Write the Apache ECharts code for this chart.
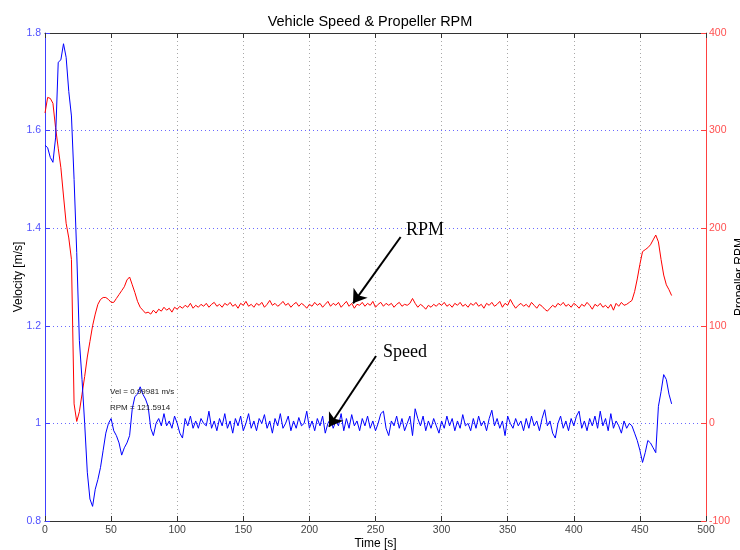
<!DOCTYPE html>
<html lang="en">
<head>
    <meta charset="UTF-8">
    <title>Vehicle Speed & Propeller RPM</title>
    <script src="https://cdn.jsdelivr.net/npm/echarts@6/dist/echarts.min.js"></script>
    <style>
        html, body { margin: 0; padding: 0; background: #fff; }
        #charts { width: 740px; height: 550px; }
    </style>
</head>
<body>
<div id="charts"></div>

<script>
    // sample times [s]
    var timeS = [
        0, 2, 4, 6, 8, 10, 12, 14, 16, 18,
        20, 22, 24, 26, 28, 30, 32, 34, 36, 38,
        40, 42, 44, 46, 48, 50, 52, 54, 56, 58,
        60, 62, 64, 66, 68, 70, 72, 74, 76, 78,
        80, 82, 84, 86, 88, 90, 92, 94, 96, 98,
        100, 102, 104, 106, 108, 110, 112, 114, 116, 118,
        120, 122, 124, 126, 128, 130, 132, 134, 136, 138,
        140, 142, 144, 146, 148, 150, 152, 154, 156, 158,
        160, 162, 164, 166, 168, 170, 172, 174, 176, 178,
        180, 182, 184, 186, 188, 190, 192, 194, 196, 198,
        200, 202, 204, 206, 208, 210, 212, 214, 216, 218,
        220, 222, 224, 226, 228, 230, 232, 234, 236, 238,
        240, 242, 244, 246, 248, 250, 252, 254, 256, 258,
        260, 262, 264, 266, 268, 270, 272, 274, 276, 278,
        280, 282, 284, 286, 288, 290, 292, 294, 296, 298,
        300, 302, 304, 306, 308, 310, 312, 314, 316, 318,
        320, 322, 324, 326, 328, 330, 332, 334, 336, 338,
        340, 342, 344, 346, 348, 350, 352, 354, 356, 358,
        360, 362, 364, 366, 368, 370, 372, 374, 376, 378,
        380, 382, 384, 386, 388, 390, 392, 394, 396, 398,
        400, 402, 404, 406, 408, 410, 412, 414, 416, 418,
        420, 422, 424, 426, 428, 430, 432, 434, 436, 438,
        440, 442, 444, 446, 448, 450, 452, 454, 456, 458,
        460, 462, 464, 466, 468, 470, 472, 474
    ];

    // vehicle speed [m/s]
    var speed = [
        1.57, 1.565, 1.545, 1.535, 1.585, 1.74, 1.745, 1.778, 1.75, 1.68,
        1.63, 1.50, 1.35, 1.17, 1.09, 1.00, 0.90, 0.845, 0.83, 0.865,
        0.885, 0.91, 0.945, 0.98, 1.0, 1.01, 0.985, 0.975, 0.96, 0.935,
        0.95, 0.96, 0.975, 1.03, 1.055, 1.06, 1.075, 1.06, 1.05, 1.035,
        0.99, 0.975, 1.0, 1.01, 0.995, 1.02, 0.995, 1.005, 0.99, 1.015,
        1.0, 0.98, 0.97, 1.01, 0.995, 1.015, 0.99, 1.005, 0.99, 1.01,
        1.0, 0.995, 1.025, 0.99, 1.005, 0.985, 1.01, 0.995, 1.02, 0.99,
        1.005, 0.98, 1.01, 0.995, 1.015, 0.985, 1.0, 1.02, 0.99, 1.005,
        0.985, 1.01, 1.0, 1.018, 0.99, 1.005, 0.98, 1.01, 0.995, 1.02,
        0.99, 1.0, 1.015, 0.985, 1.005, 0.99, 1.012, 0.995, 1.0, 1.025,
        0.99, 1.005, 0.985, 1.01, 0.995, 1.015, 0.98, 1.0, 1.01, 0.99,
        1.005, 0.995, 1.02, 0.985, 1.01, 0.99, 1.018, 0.995, 1.005, 0.985,
        1.01, 0.995, 1.015, 0.99, 1.005, 0.985, 1.0, 1.02, 1.025, 0.99,
        0.975, 1.005, 0.995, 1.015, 0.99, 1.01, 0.985, 1.0, 1.015, 0.975,
        1.03, 1.01, 0.995, 1.015, 0.985, 1.005, 0.99, 1.01, 0.995, 0.98,
        1.005, 0.99, 1.015, 0.995, 1.01, 0.985, 1.005, 0.99, 1.018, 0.995,
        1.0, 0.985, 1.01, 0.99, 1.015, 0.995, 1.005, 0.985, 1.01, 1.027,
        0.995, 1.01, 0.99, 1.005, 0.975, 1.015, 1.0, 0.99, 1.01, 0.995,
        1.005, 0.985, 1.01, 0.99, 1.015, 0.995, 1.005, 0.985, 1.01, 1.028,
        0.995, 1.005, 0.98, 0.97, 1.0, 1.015, 0.99, 1.005, 0.985, 1.01,
        0.995, 1.015, 1.025, 0.99, 1.005, 0.985, 1.01, 0.995, 1.015, 0.99,
        1.025, 0.995, 1.01, 0.985, 1.02, 0.99, 1.005, 0.995, 0.98, 1.005,
        0.99, 1.0, 0.995, 0.98, 0.965, 0.945, 0.92, 0.94, 0.965, 0.96,
        0.95, 0.94, 1.035, 1.065, 1.1, 1.09, 1.06, 1.04
    ];

    // propeller speed [RPM]
    var rpm = [
        318, 334, 333, 328, 303, 282, 262, 233, 205, 190,
        168, 20, 2, 12, 30, 48, 68, 84, 100, 112,
        122, 127, 129, 129, 127, 124, 124, 128, 132, 136,
        140, 147, 150, 142, 134, 125, 119, 116, 113, 114,
        112, 116, 113, 117, 115, 119, 116, 118, 114, 119,
        117, 120, 118, 121, 119, 123, 118, 121, 119, 122,
        120, 123, 119, 122, 124, 120, 122, 119, 123, 121,
        124, 120, 122, 118, 123, 121, 125, 120, 122, 119,
        123, 121, 124, 119, 122, 126, 121, 123, 120, 122,
        125, 121, 123, 119, 122, 124, 120, 123, 121, 118,
        122, 120, 124, 121, 123, 119, 122, 125, 120, 123,
        121, 124, 119, 122, 125, 120, 123, 118, 122, 121,
        124, 120, 123, 121, 125, 119, 122, 124, 120, 123,
        121, 123, 119, 122, 124, 120, 122, 121, 123, 128,
        123, 119, 122, 120, 117, 121, 119, 122, 120, 123,
        121, 124, 120, 122, 119, 123, 121, 124, 120, 122,
        119, 123, 121, 124, 120, 122, 118, 123, 121, 124,
        120, 122, 125, 119, 123, 121, 127, 122, 118, 121,
        123, 120, 122, 119, 124, 121, 118, 122, 120, 117,
        115, 118, 121, 119, 123, 121, 124, 120, 122, 119,
        123, 121, 118, 122, 120, 124, 121, 117, 122, 120,
        123, 119, 121, 118, 122, 116, 123, 120, 124, 121,
        122, 124, 126, 135, 148, 163, 176, 178, 180, 183,
        188, 193, 186, 168, 152, 142, 137, 131
    ];

    var xTicks = [0, 500, 50];          // min, max, step
    var velTicks = [0.8, 1.8, 0.2];
    var rpmTicks = [-100, 400, 100];

    // annotation arrows: [tail, head] in data units
    var rpmArrow = [[269, 191], [233, 123]];
    var speedArrow = [[250.4, 1.138], [214.8, 0.993]];

    var fontSans = "'Liberation Sans', Arial, sans-serif";
    var fontSerif = "'Liberation Serif', 'Times New Roman', serif";

    function pairs(xs, ys) {
        var out = [];
        for (var i = 0; i < ys.length; i++) out.push([xs[i], ys[i]]);
        return out;
    }

    function arrowLine(pts) {
        return {
            silent: true,
            animation: false,
            symbol: ['none', 'arrow'],
            symbolSize: 13,
            label: {show: false},
            lineStyle: {color: '#000', width: 2, type: 'solid'},
            itemStyle: {color: '#000'},
            emphasis: {disabled: true},
            data: [[{coord: pts[0]}, {coord: pts[1]}]]
        };
    }

    var myChart = echarts.init(document.getElementById('charts'), null, {renderer: 'canvas'});

    var option = {
        animation: false,
        backgroundColor: '#fff',
        textStyle: {fontFamily: fontSans},
        title: {
            text: 'Vehicle Speed & Propeller RPM',
            left: 'center',
            top: 9,
            textStyle: {fontSize: 14.5, fontWeight: 'normal', color: '#000', fontFamily: fontSans}
        },
        grid: {left: 45, right: 34, top: 33, bottom: 29, containLabel: false, outerBoundsMode: 'none'},
        xAxis: [{
            type: 'value',
            min: xTicks[0], max: xTicks[1], interval: xTicks[2],
            name: 'Time [s]',
            nameLocation: 'middle',
            nameGap: 17,
            nameMoveOverlap: false,
            nameTextStyle: {fontSize: 12, color: '#000', fontFamily: fontSans},
            axisLine: {onZero: false, lineStyle: {color: '#333', width: 1}},
            axisTick: {inside: true, length: 5, lineStyle: {color: '#333'}},
            axisLabel: {fontSize: 10.5, color: '#444', margin: 4, fontFamily: fontSans},
            splitLine: {show: true, lineStyle: {color: '#a8a8a8', type: [1, 3], width: 1}}
        }, {
            type: 'value',
            position: 'top',
            min: xTicks[0], max: xTicks[1], interval: xTicks[2],
            axisLine: {onZero: false, lineStyle: {color: '#333', width: 1}},
            axisTick: {inside: true, length: 5, lineStyle: {color: '#333'}},
            axisLabel: {show: false},
            splitLine: {show: false}
        }],
        yAxis: [{
            type: 'value',
            position: 'left',
            min: velTicks[0], max: velTicks[1], interval: velTicks[2],
            name: 'Velocity [m/s]',
            nameLocation: 'middle',
            nameRotate: 90,
            nameGap: 20,
            nameMoveOverlap: false,
            nameTextStyle: {fontSize: 12, color: '#000', fontFamily: fontSans},
            axisLine: {show: true, onZero: false, lineStyle: {color: '#4040ff', width: 1}},
            axisTick: {show: true, inside: true, length: 5, lineStyle: {color: '#4040ff'}},
            axisLabel: {fontSize: 10.5, color: '#5050ff', margin: 4, fontFamily: fontSans},
            splitLine: {show: true, lineStyle: {color: '#6a6aff', type: [1, 3], width: 1}}
        }, {
            type: 'value',
            position: 'right',
            min: rpmTicks[0], max: rpmTicks[1], interval: rpmTicks[2],
            name: 'Propeller RPM',
            nameLocation: 'middle',
            nameRotate: 90,
            nameGap: 28,
            nameMoveOverlap: false,
            nameTextStyle: {fontSize: 12, color: '#000', fontFamily: fontSans},
            axisLine: {show: true, onZero: false, lineStyle: {color: '#ff4040', width: 1}},
            axisTick: {show: true, inside: true, length: 5, lineStyle: {color: '#ff4040'}},
            axisLabel: {fontSize: 10.5, color: '#ff5050', margin: 3, fontFamily: fontSans},
            splitLine: {show: false}
        }],
        series: [{
            name: 'Speed',
            type: 'line',
            xAxisIndex: 0,
            yAxisIndex: 0,
            data: pairs(timeS, speed),
            showSymbol: false,
            symbol: 'none',
            lineStyle: {color: '#0000ff', width: 1},
            itemStyle: {color: '#0000ff'},
            z: 3,
            markLine: arrowLine(speedArrow)
        }, {
            name: 'RPM',
            type: 'line',
            xAxisIndex: 0,
            yAxisIndex: 1,
            data: pairs(timeS, rpm),
            showSymbol: false,
            symbol: 'none',
            lineStyle: {color: '#ff0000', width: 1},
            itemStyle: {color: '#ff0000'},
            z: 2,
            markLine: arrowLine(rpmArrow)
        }],
        graphic: [
            {type: 'text', left: 406, top: 221, z: 10,
                style: {text: 'RPM', font: '18px ' + fontSerif, fill: '#000'}},
            {type: 'text', left: 383, top: 343, z: 10,
                style: {text: 'Speed', font: '18px ' + fontSerif, fill: '#000'}},
            {type: 'text', left: 110, top: 388, z: 10,
                style: {text: 'Vel = 0.99981 m/s', font: '8px ' + fontSans, fill: '#222'}},
            {type: 'text', left: 110, top: 404, z: 10,
                style: {text: 'RPM = 121.5914', font: '8px ' + fontSans, fill: '#222'}}
        ]
    };

    myChart.setOption(option);
</script>
</body>
</html>
